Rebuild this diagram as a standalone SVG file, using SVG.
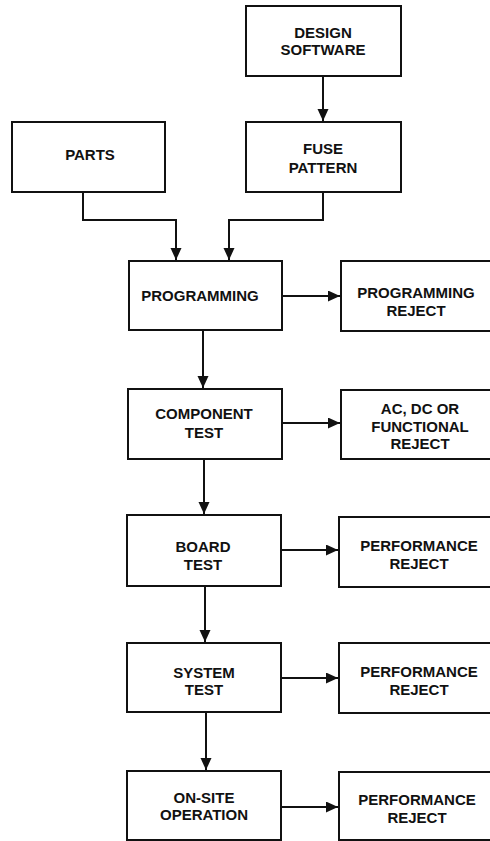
<svg xmlns="http://www.w3.org/2000/svg" width="490" height="841" viewBox="0 0 490 841">
  <style>
    .box { fill: #fff; stroke: #111; stroke-width: 2; }
    .lbl { font-family: "Liberation Sans", Arial, sans-serif; font-weight: bold; font-size: 15px; fill: #111; text-anchor: middle; }
    .wire { fill: none; stroke: #111; stroke-width: 2; }
  </style>
  <defs>
    <marker id="arrow" markerUnits="userSpaceOnUse" markerWidth="12" markerHeight="12" refX="12" refY="5.5" orient="auto">
      <path d="M0,0 L12,5.5 L0,11 Z" fill="#111"/>
    </marker>
  </defs>
  <rect width="490" height="841" fill="#fff"/>

  <g id="connectors">
    <path class="wire" d="M323,76 V121" marker-end="url(#arrow)"/>
    <path class="wire" d="M83,192 V220 H176 V260" marker-end="url(#arrow)"/>
    <path class="wire" d="M323,192 V220 H229 V260" marker-end="url(#arrow)"/>
    <path class="wire" d="M203,330 V388" marker-end="url(#arrow)"/>
    <path class="wire" d="M204,459 V514" marker-end="url(#arrow)"/>
    <path class="wire" d="M205,586 V642" marker-end="url(#arrow)"/>
    <path class="wire" d="M206,712 V770" marker-end="url(#arrow)"/>
    <path class="wire" d="M282,296 H340" marker-end="url(#arrow)"/>
    <path class="wire" d="M282,423 H340" marker-end="url(#arrow)"/>
    <path class="wire" d="M281,550 H338" marker-end="url(#arrow)"/>
    <path class="wire" d="M281,678 H338" marker-end="url(#arrow)"/>
    <path class="wire" d="M281,807 H338" marker-end="url(#arrow)"/>
  </g>

  <g id="design-software">
    <rect class="box" x="246" y="6" width="155" height="70"/>
    <text class="lbl" x="323" y="37.5">DESIGN</text>
    <text class="lbl" x="323" y="54.5">SOFTWARE</text>
  </g>
  <g id="fuse-pattern">
    <rect class="box" x="246" y="122" width="155" height="70"/>
    <text class="lbl" x="323" y="153.5">FUSE</text>
    <text class="lbl" x="323" y="172.5">PATTERN</text>
  </g>
  <g id="parts">
    <rect class="box" x="12" y="122" width="153" height="70"/>
    <text class="lbl" x="90" y="159.5">PARTS</text>
  </g>
  <g id="programming">
    <rect class="box" x="129" y="261" width="153" height="69"/>
    <text class="lbl" x="200" y="300.5">PROGRAMMING</text>
  </g>
  <g id="programming-reject">
    <rect class="box" x="341" y="261" width="160" height="70"/>
    <text class="lbl" x="416" y="297.5">PROGRAMMING</text>
    <text class="lbl" x="416" y="315.5">REJECT</text>
  </g>
  <g id="component-test">
    <rect class="box" x="128" y="389" width="154" height="70"/>
    <text class="lbl" x="204" y="418.5">COMPONENT</text>
    <text class="lbl" x="204" y="437.5">TEST</text>
  </g>
  <g id="functional-reject">
    <rect class="box" x="341" y="390" width="160" height="69"/>
    <text class="lbl" x="420" y="413.5">AC, DC OR</text>
    <text class="lbl" x="420" y="431.5">FUNCTIONAL</text>
    <text class="lbl" x="420" y="448.5">REJECT</text>
  </g>
  <g id="board-test">
    <rect class="box" x="127" y="515" width="154" height="71"/>
    <text class="lbl" x="203" y="551.5">BOARD</text>
    <text class="lbl" x="203" y="569.5">TEST</text>
  </g>
  <g id="board-reject">
    <rect class="box" x="339" y="517" width="162" height="70"/>
    <text class="lbl" x="419" y="550.5">PERFORMANCE</text>
    <text class="lbl" x="419" y="568.5">REJECT</text>
  </g>
  <g id="system-test">
    <rect class="box" x="127" y="643" width="154" height="69"/>
    <text class="lbl" x="204" y="677.5">SYSTEM</text>
    <text class="lbl" x="204" y="694.5">TEST</text>
  </g>
  <g id="system-reject">
    <rect class="box" x="339" y="643" width="162" height="70"/>
    <text class="lbl" x="419" y="676.5">PERFORMANCE</text>
    <text class="lbl" x="419" y="694.5">REJECT</text>
  </g>
  <g id="on-site-operation">
    <rect class="box" x="127" y="771" width="154" height="69"/>
    <text class="lbl" x="204" y="802.5">ON-SITE</text>
    <text class="lbl" x="204" y="819.5">OPERATION</text>
  </g>
  <g id="on-site-reject">
    <rect class="box" x="339" y="772" width="162" height="68"/>
    <text class="lbl" x="417" y="804.5">PERFORMANCE</text>
    <text class="lbl" x="417" y="822.5">REJECT</text>
  </g>
</svg>
